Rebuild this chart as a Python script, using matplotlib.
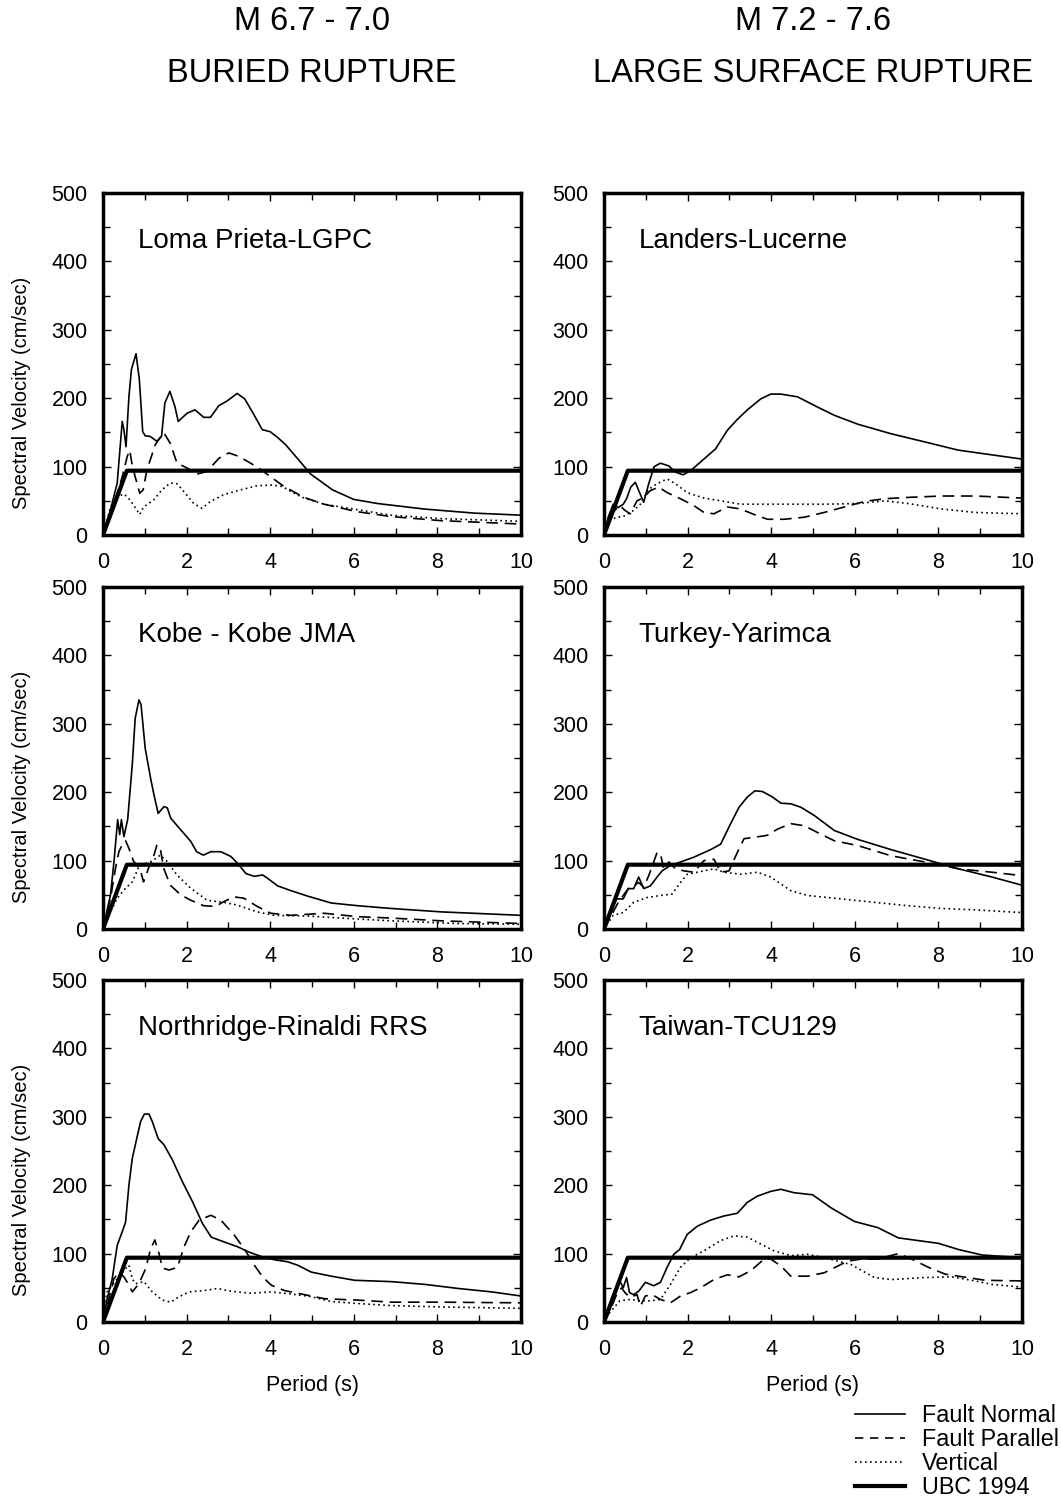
import numpy as np
import matplotlib
matplotlib.use('Agg')
import matplotlib.pyplot as plt
from matplotlib.lines import Line2D

plt.rcParams['font.family'] = ['Liberation Sans', 'DejaVu Sans']

# UBC 1994 spectrum (period, velocity)
ubc_T = [0, 0.57, 10]
ubc_V = [0, 94, 94]

# Loma Prieta-LGPC
lp_fn_T = [0, 0.18, 0.34, 0.46, 0.5, 0.55, 0.62, 0.68, 0.79, 0.87, 0.95, 1.01, 1.13, 1.29, 1.40, 1.48, 1.60, 1.72, 1.80, 2.01, 2.20, 2.41, 2.57, 2.77, 2.97, 3.21, 3.39, 3.61, 3.81, 4.0, 4.17, 4.37, 4.65, 4.97, 5.49, 6.0, 6.57, 7.68, 8.88, 10]
lp_fn_V = [0, 37, 76, 166, 154, 129, 202, 242, 265, 227, 151, 145, 144, 137, 144, 193, 210, 188, 166, 178, 183, 172, 172, 189, 196, 207, 199, 176, 154, 151, 143, 132, 112, 89, 66, 52, 46, 38, 32, 29]
lp_fp_T = [0, 0.26, 0.46, 0.58, 0.64, 0.69, 0.77, 0.88, 0.96, 1.05, 1.25, 1.45, 1.61, 1.77, 2.01, 2.25, 2.49, 2.77, 3.01, 3.25, 3.53, 3.77, 4.01, 4.33, 4.81, 5.29, 6.09, 6.88, 8.08, 10]
lp_fp_V = [0, 46, 85, 115, 124, 105, 85, 61, 66, 95, 132, 150, 134, 105, 98, 89, 93, 112, 120, 115, 105, 96, 85, 71, 55, 45, 34, 27, 21, 16]
lp_v_T = [0, 0.18, 0.34, 0.5, 0.65, 0.88, 0.97, 1.21, 1.41, 1.61, 1.77, 1.97, 2.17, 2.37, 2.57, 2.89, 3.29, 3.69, 4.01, 4.29, 4.57, 4.81, 5.29, 6.09, 6.88, 8.08, 10]
lp_v_V = [0, 41, 56, 60, 51, 30, 41, 51, 66, 76, 75, 61, 46, 39, 49, 59, 66, 72, 73, 71, 61, 54, 45, 37, 29, 24, 20]

# Landers-Lucerne
la_fn_T = [0, 0.1, 0.22, 0.34, 0.46, 0.54, 0.64, 0.75, 0.83, 0.95, 1.07, 1.2, 1.35, 1.55, 1.71, 1.89, 2.07, 2.39, 2.67, 2.95, 3.19, 3.43, 3.75, 3.99, 4.23, 4.63, 5.11, 5.51, 6.07, 6.87, 7.68, 8.48, 10]
la_fn_V = [0, 26, 45, 40, 45, 53, 70, 77, 65, 48, 75, 100, 105, 101, 92, 88, 94, 111, 126, 153, 169, 183, 199, 206, 206, 202, 187, 175, 162, 148, 136, 124, 111]
la_fp_T = [0, 0.14, 0.26, 0.38, 0.5, 0.63, 0.79, 0.95, 1.11, 1.31, 1.51, 1.83, 2.15, 2.39, 2.63, 2.95, 3.27, 3.59, 3.91, 4.31, 4.79, 5.27, 5.75, 6.23, 6.71, 7.28, 8.08, 8.88, 10]
la_fp_V = [0, 26, 36, 43, 36, 31, 50, 55, 65, 70, 62, 53, 43, 33, 31, 41, 38, 30, 23, 23, 26, 33, 41, 49, 53, 55, 57, 57, 54]
la_v_T = [0, 0.14, 0.3, 0.46, 0.71, 0.87, 1.07, 1.27, 1.51, 1.71, 1.99, 2.39, 2.79, 3.27, 4.07, 5.27, 6.07, 6.71, 7.28, 8.08, 8.88, 10]
la_v_V = [0, 21, 26, 27, 36, 45, 67, 75, 82, 75, 62, 54, 50, 45, 45, 45, 46, 50, 46, 38, 33, 31]

# Kobe - Kobe JMA
kb_fn_T = [0, 0.18, 0.27, 0.35, 0.4, 0.44, 0.5, 0.59, 0.7, 0.77, 0.86, 0.91, 1.01, 1.14, 1.22, 1.32, 1.46, 1.54, 1.62, 1.86, 2.1, 2.24, 2.4, 2.58, 2.82, 3.06, 3.22, 3.42, 3.62, 3.82, 3.94, 4.18, 4.5, 4.9, 5.46, 6.1, 6.9, 8.1, 10]
kb_fn_V = [0, 50, 103, 160, 138, 160, 135, 160, 240, 308, 335, 328, 264, 220, 196, 169, 179, 177, 162, 145, 128, 113, 108, 113, 113, 106, 96, 81, 77, 79, 74, 63, 56, 48, 38, 34, 30, 25, 20]
kb_fp_T = [0, 0.18, 0.3, 0.38, 0.46, 0.54, 0.62, 0.73, 0.88, 0.97, 1.09, 1.21, 1.29, 1.37, 1.45, 1.61, 1.86, 2.1, 2.41, 2.69, 2.89, 3.13, 3.37, 3.69, 4.01, 4.49, 5.29, 6.09, 6.89, 8.08, 10]
kb_fp_V = [0, 45, 89, 113, 123, 129, 118, 99, 89, 69, 89, 106, 123, 118, 89, 64, 50, 42, 34, 33, 40, 47, 45, 33, 23, 20, 23, 18, 16, 12, 8]
kb_v_T = [0, 0.18, 0.34, 0.5, 0.7, 0.86, 1.01, 1.17, 1.37, 1.53, 1.77, 2.09, 2.49, 2.89, 3.21, 3.69, 4.09, 4.89, 5.69, 6.88, 8.48, 10]
kb_v_V = [0, 25, 45, 57, 69, 91, 96, 99, 108, 99, 79, 60, 42, 39, 35, 25, 20, 19, 16, 12, 8, 7]

# Turkey-Yarimca
ty_fn_T = [0, 0.14, 0.3, 0.46, 0.58, 0.71, 0.83, 0.95, 1.11, 1.27, 1.39, 1.59, 1.83, 2.15, 2.55, 2.79, 3.03, 3.23, 3.43, 3.61, 3.79, 4.03, 4.23, 4.47, 4.71, 5.03, 5.51, 6.07, 6.87, 7.68, 8.48, 9.28, 10]
ty_fn_V = [0, 20, 44, 44, 59, 59, 76, 59, 63, 76, 85, 93, 98, 105, 116, 124, 154, 178, 193, 202, 201, 193, 184, 183, 178, 166, 144, 131, 116, 102, 88, 76, 64]
ty_fp_T = [0, 0.18, 0.34, 0.46, 0.58, 0.71, 0.83, 0.95, 1.07, 1.19, 1.27, 1.35, 1.43, 1.55, 1.71, 1.91, 2.15, 2.39, 2.63, 2.79, 2.99, 3.19, 3.35, 3.59, 3.91, 4.15, 4.47, 4.79, 5.11, 5.51, 6.07, 6.87, 7.68, 8.48, 9.28, 10]
ty_fp_V = [0, 20, 39, 49, 59, 63, 68, 61, 78, 98, 112, 110, 88, 98, 88, 85, 83, 100, 102, 83, 85, 112, 132, 134, 137, 146, 154, 151, 141, 129, 122, 107, 98, 88, 83, 78]
ty_v_T = [0, 0.22, 0.46, 0.71, 1.03, 1.35, 1.63, 1.83, 1.99, 2.23, 2.63, 2.87, 3.27, 3.67, 3.99, 4.47, 4.87, 5.67, 6.47, 7.28, 8.08, 8.88, 10]
ty_v_V = [0, 20, 24, 39, 46, 49, 51, 68, 80, 83, 88, 83, 80, 83, 76, 56, 49, 44, 39, 34, 30, 28, 24]

# Northridge-Rinaldi RRS
nr_fn_T = [0, 0.1, 0.22, 0.34, 0.46, 0.54, 0.62, 0.7, 0.78, 0.9, 0.99, 1.1, 1.18, 1.32, 1.46, 1.66, 1.9, 2.14, 2.38, 2.59, 2.9, 3.22, 3.5, 3.82, 4.1, 4.42, 4.66, 4.98, 5.46, 6.02, 6.9, 7.7, 8.5, 9.3, 10]
nr_fn_V = [0, 34, 63, 112, 132, 146, 200, 239, 261, 293, 304, 304, 293, 268, 259, 237, 205, 176, 144, 124, 117, 110, 102, 95, 91, 88, 83, 73, 67, 61, 59, 55, 49, 44, 38]
nr_fp_T = [0, 0.14, 0.26, 0.38, 0.5, 0.62, 0.7, 0.86, 1.02, 1.14, 1.24, 1.34, 1.42, 1.58, 1.78, 1.94, 2.1, 2.3, 2.58, 2.82, 3.14, 3.38, 3.62, 3.82, 4.02, 4.34, 4.74, 5.3, 6.1, 6.9, 8.1, 10]
nr_fp_V = [0, 34, 63, 73, 66, 54, 44, 56, 78, 107, 120, 100, 79, 76, 80, 110, 132, 149, 156, 149, 127, 107, 83, 66, 54, 46, 41, 34, 32, 29, 29, 28]
nr_v_T = [0, 0.1, 0.22, 0.34, 0.46, 0.62, 0.7, 0.78, 0.98, 1.18, 1.42, 1.62, 1.82, 2.06, 2.42, 2.74, 3.06, 3.54, 4.02, 4.5, 4.98, 5.46, 6.1, 6.9, 8.1, 10]
nr_v_V = [0, 44, 54, 63, 73, 83, 63, 56, 59, 44, 32, 29, 37, 44, 46, 49, 45, 42, 44, 41, 37, 30, 27, 24, 22, 20]

# Taiwan-TCU129
tw_fn_T = [0, 0.1, 0.22, 0.38, 0.46, 0.54, 0.61, 0.71, 0.83, 0.99, 1.19, 1.35, 1.51, 1.67, 1.81, 1.99, 2.23, 2.55, 2.87, 3.19, 3.43, 3.67, 3.99, 4.23, 4.55, 4.99, 5.43, 5.99, 6.55, 7.04, 7.52, 8.0, 8.48, 9.04, 10]
tw_fn_V = [0, 21, 40, 60, 50, 65, 43, 40, 45, 58, 53, 58, 80, 99, 106, 128, 140, 149, 155, 159, 175, 184, 191, 194, 189, 186, 167, 147, 138, 123, 119, 115, 106, 98, 94]
tw_fp_T = [0, 0.14, 0.3, 0.42, 0.5, 0.62, 0.79, 0.87, 0.99, 1.15, 1.35, 1.59, 1.83, 2.07, 2.31, 2.63, 2.95, 3.23, 3.51, 3.83, 3.99, 4.23, 4.47, 4.87, 5.27, 5.83, 6.15, 6.55, 7.04, 7.36, 7.76, 8.16, 8.48, 9.12, 10]
tw_fp_V = [0, 16, 40, 50, 43, 36, 40, 23, 38, 40, 33, 28, 38, 43, 50, 62, 69, 66, 75, 92, 92, 82, 67, 67, 72, 89, 92, 92, 100, 92, 80, 70, 67, 61, 60]
tw_v_T = [0, 0.14, 0.38, 0.62, 0.87, 1.11, 1.35, 1.59, 1.83, 2.07, 2.39, 2.79, 3.11, 3.43, 3.75, 4.07, 4.47, 4.87, 5.27, 5.91, 6.47, 6.87, 7.68, 8.32, 8.88, 9.28, 10]
tw_v_V = [0, 14, 31, 33, 31, 31, 33, 55, 80, 94, 104, 119, 126, 124, 114, 104, 97, 99, 94, 84, 65, 62, 65, 66, 60, 55, 51]

paneles = [
    ('Loma Prieta-LGPC', lp_fn_T, lp_fn_V, lp_fp_T, lp_fp_V, lp_v_T, lp_v_V),
    ('Landers-Lucerne', la_fn_T, la_fn_V, la_fp_T, la_fp_V, la_v_T, la_v_V),
    ('Kobe - Kobe JMA', kb_fn_T, kb_fn_V, kb_fp_T, kb_fp_V, kb_v_T, kb_v_V),
    ('Turkey-Yarimca', ty_fn_T, ty_fn_V, ty_fp_T, ty_fp_V, ty_v_T, ty_v_V),
    ('Northridge-Rinaldi RRS', nr_fn_T, nr_fn_V, nr_fp_T, nr_fp_V, nr_v_T, nr_v_V),
    ('Taiwan-TCU129', tw_fn_T, tw_fn_V, tw_fp_T, tw_fp_V, tw_v_T, tw_v_V),
]

W, H = 1062, 1506
fig = plt.figure(figsize=(W/100, H/100), dpi=100)

col_x = [103, 604]
row_y = [193, 587, 980]
ax_w, ax_h = 418, 342

for n, (nombre, fnT, fnV, fpT, fpV, vT, vV) in enumerate(paneles):
    fila, col = n // 2, n % 2
    ax = fig.add_axes([col_x[col]/W, 1 - (row_y[fila] + ax_h)/H, ax_w/W, ax_h/H])
    ax.plot(fnT, fnV, color='k', lw=1.2, ls='-')
    ax.plot(fpT, fpV, color='k', lw=1.2, ls=(0, (7, 4)))
    ax.plot(vT, vV, color='k', lw=1.2, ls=(0, (1, 2)))
    ax.plot(ubc_T, ubc_V, color='k', lw=3)
    ax.set_xlim(0, 10)
    ax.set_ylim(0, 500)
    ax.set_xticks(np.arange(0, 11, 2))
    ax.set_xticks(np.arange(0, 11, 1), minor=True)
    ax.set_yticks(np.arange(0, 501, 100))
    ax.set_yticks(np.arange(0, 501, 50), minor=True)
    ax.tick_params(which='both', direction='in', top=True, right=True, labelsize=15.5)
    ax.tick_params(axis='x', which='both', pad=12)
    ax.tick_params(axis='y', which='both', pad=11)
    ax.tick_params(which='major', length=6, width=1)
    ax.tick_params(which='minor', length=5, width=1)
    for s in ax.spines.values():
        s.set_linewidth(2.5)
    ax.text(0.083, 0.86, nombre, transform=ax.transAxes, fontsize=20, va='center', ha='left')
    if col == 0:
        ax.set_ylabel('Spectral Velocity (cm/sec)', fontsize=14.5)
        # la etiqueta va corrida hacia abajo como en el original
        ax.yaxis.set_label_coords(-0.172, 0.415)
    if fila == 2:
        ax.set_xlabel('Period (s)', fontsize=15.5, labelpad=11)

# titulos de columna
fig.text(312/W, 1 - 22/H, 'M 6.7 - 7.0', fontsize=23.5, ha='center', va='center')
fig.text(312/W, 1 - 73/H, 'BURIED RUPTURE', fontsize=23.5, ha='center', va='center')
fig.text(813/W, 1 - 22/H, 'M 7.2 - 7.6', fontsize=23.5, ha='center', va='center')
fig.text(813/W, 1 - 73/H, 'LARGE SURFACE RUPTURE', fontsize=23.5, ha='center', va='center')

handles = [Line2D([], [], color='k', lw=1.2, ls='-'),
           Line2D([], [], color='k', lw=1.2, ls=(0, (5, 4))),
           Line2D([], [], color='k', lw=1.2, ls=(0, (1, 2))),
           Line2D([], [], color='k', lw=3)]
etiquetas = ['Fault Normal', 'Fault Parallel', 'Vertical', 'UBC 1994']
fig.legend(handles, etiquetas, loc='upper left', bbox_to_anchor=(855/W, 1 - 1404/H),
           frameon=False, fontsize=16.8, handlelength=2.15, handletextpad=0.7,
           labelspacing=0.04, borderaxespad=0, borderpad=0)

plt.savefig('out.png', dpi=100)
